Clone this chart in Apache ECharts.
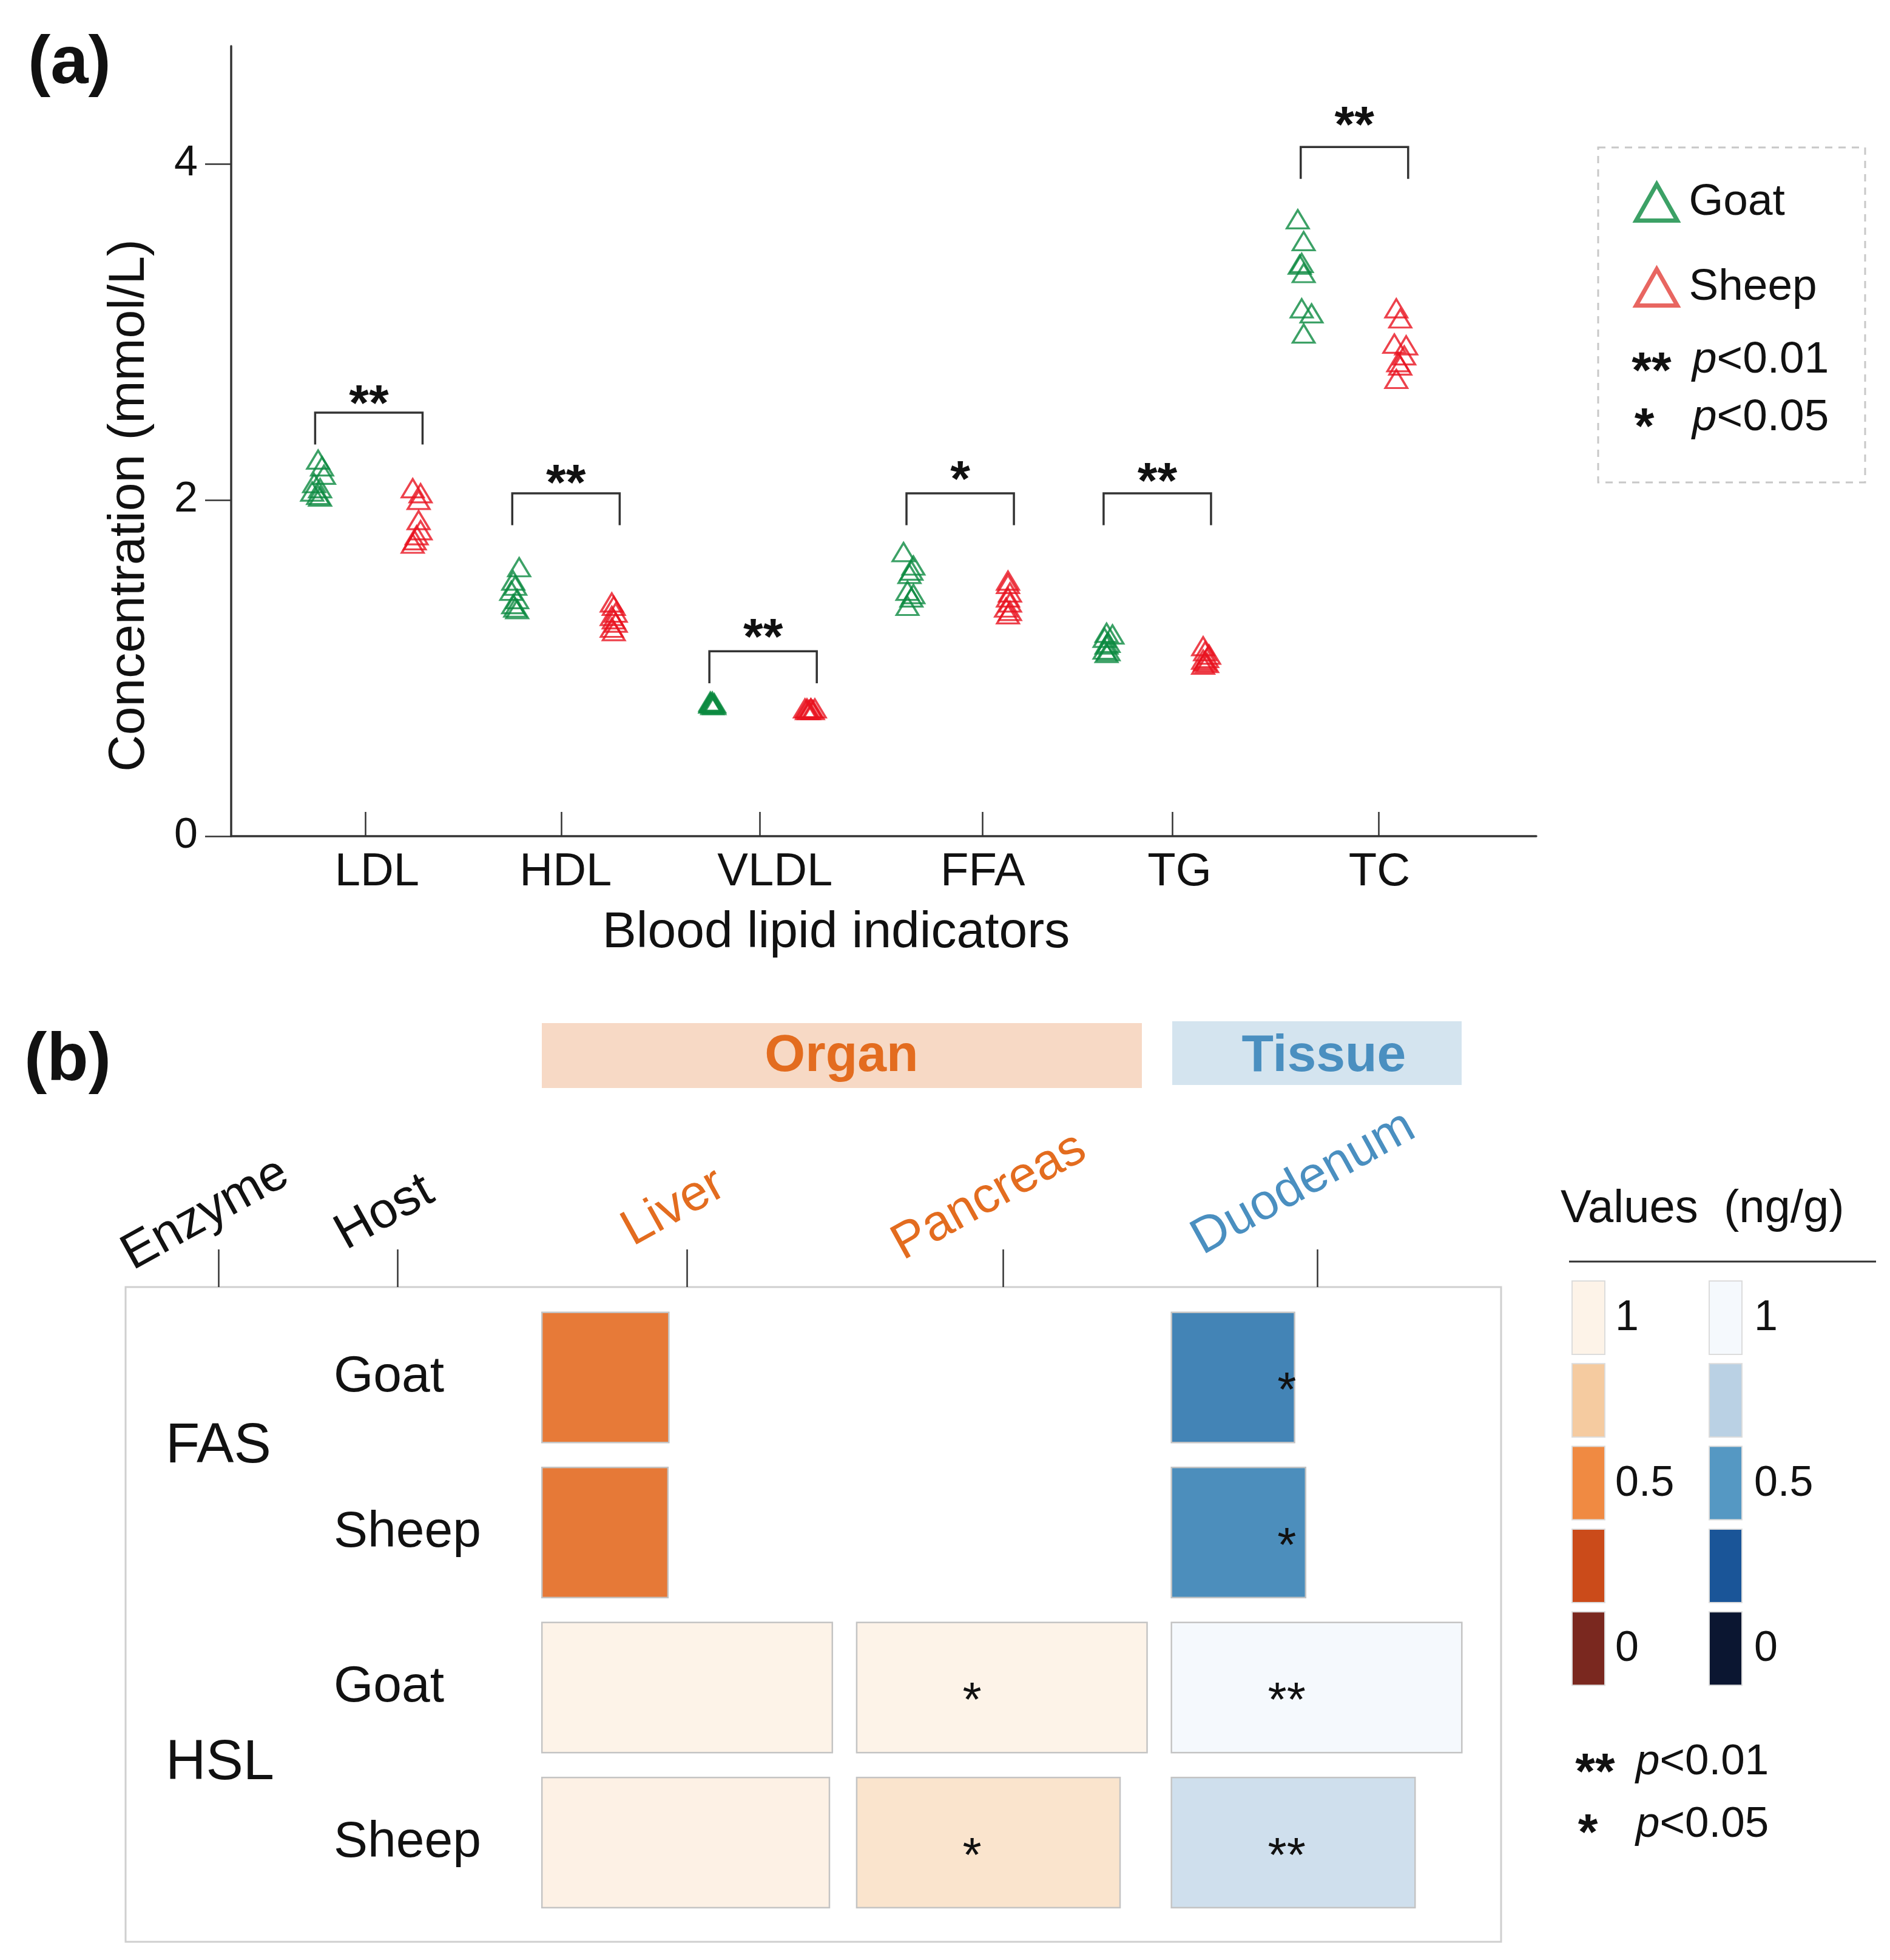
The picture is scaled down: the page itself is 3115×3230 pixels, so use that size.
<!DOCTYPE html>
<html><head><meta charset="utf-8">
<script src="https://cdn.jsdelivr.net/npm/echarts@6/dist/echarts.min.js"></script>
<style>html,body{margin:0;padding:0;background:#fff}#c{width:3115px;height:3230px}</style>
</head><body><div id="c"></div>
<script>
const FONT = '"Liberation Sans", Arial, Helvetica, sans-serif';

// ---------- Panel (a) data ----------
const categories = ['LDL', 'HDL', 'VLDL', 'FFA', 'TG', 'TC'];
const goatValues = [
  [2.24, 2.20, 2.15, 2.10, 2.07, 2.05, 2.03, 2.02],
  [1.60, 1.52, 1.49, 1.46, 1.41, 1.38, 1.36, 1.35],
  [0.80, 0.79, 0.79, 0.79, 0.78, 0.78, 0.79, 0.80],
  [1.69, 1.61, 1.58, 1.56, 1.46, 1.44, 1.42, 1.37],
  [1.21, 1.20, 1.18, 1.15, 1.14, 1.11, 1.10, 1.09],
  [3.67, 3.54, 3.41, 3.40, 3.35, 3.14, 3.11, 2.99]
];
const sheepValues = [
  [2.07, 2.04, 2.00, 1.88, 1.82, 1.79, 1.76, 1.74],
  [1.39, 1.37, 1.33, 1.31, 1.29, 1.27, 1.24, 1.22],
  [0.76, 0.76, 0.75, 0.76, 0.75, 0.76, 0.75, 0.76],
  [1.52, 1.50, 1.45, 1.42, 1.39, 1.36, 1.34, 1.32],
  [1.13, 1.10, 1.08, 1.06, 1.05, 1.04, 1.03, 1.02],
  [3.14, 3.08, 2.93, 2.92, 2.86, 2.82, 2.80, 2.72]
];
// small horizontal scatter of the points (category units)
const goatJitter = [
  [0.00, 0.02, 0.03, -0.02, 0.01, -0.03, 0.00, 0.01],
  [0.02, -0.01, 0.00, -0.02, 0.01, -0.01, 0.00, 0.01],
  [-0.01, 0.00, 0.01, -0.01, 0.00, 0.01, -0.01, 0.00],
  [-0.03, 0.02, 0.01, 0.00, -0.01, 0.02, 0.01, -0.01],
  [0.00, 0.03, -0.01, 0.01, 0.00, -0.01, 0.01, 0.00],
  [-0.03, 0.00, -0.01, -0.02, 0.00, -0.01, 0.04, 0.00]
];
const sheepJitter = [
  [-0.02, 0.02, 0.01, 0.01, 0.02, 0.00, -0.01, -0.02],
  [-0.01, 0.00, 0.01, -0.01, 0.00, 0.01, -0.01, 0.00],
  [-0.03, -0.02, -0.01, 0.00, 0.01, 0.02, -0.02, 0.00],
  [0.00, 0.00, 0.01, 0.00, 0.01, -0.01, 0.01, 0.00],
  [-0.01, 0.00, 0.02, 0.01, -0.01, 0.00, 0.01, -0.01],
  [-0.03, -0.01, -0.04, 0.02, 0.01, -0.02, -0.01, -0.03]
];
const bracketTops = [2.52, 2.04, 1.10, 2.04, 2.04, 4.10];
const sigY = [2.62, 2.15, 1.23, 2.17, 2.16, 4.28];
const sigLabels = ['**', '**', '**', '*', '**', '**'];
const yTicks = [0, 2, 4];
const pLegend = [['**', '<0.01'], ['*', '<0.05']];

// ---------- Panel (b) data ----------
const enzymes = ['FAS', 'HSL'];
const hosts = ['Goat', 'Sheep', 'Goat', 'Sheep'];
const headerLabels = ['Enzyme', 'Host', 'Liver', 'Pancreas', 'Duodenum'];
const liverValues = [0.437, 0.434, 1.00, 0.99];
const pancreasValues = [null, null, 1.00, 0.907];
const duodenumValues = [0.424, 0.462, 1.00, 0.839];
const liverSig = ['', '', '', ''];
const pancreasSig = ['', '', '*', '*'];
const duodenumSig = ['*', '*', '**', '**'];
const legendTicks = ['1', '', '0.5', '', '0'];
const groupHeaders = ['Organ', 'Tissue'];

// ---------- styles / positions ----------
const GREEN = '#0B8A40', RED = '#E8131F', RED_LEG = '#E2403A';
const ORANGE_TXT = '#E36C1F', BLUE_TXT = '#4A8FC0';
const orangeScale = ['#7A281F', '#CB4B1A', '#F08A42', '#F5CBA0', '#FDF3E8'];
const blueScale = ['#0B1631', '#1A5598', '#5598C3', '#BAD1E4', '#F5F9FD'];
const GROUP_OFF = 0.25, BR_L = -0.265, BR_R = 0.28, BR_LEG = 0.19;
const catTickPos = [-0.009, 0.984, 1.990, 3.122, 4.085, 5.130];
const catLabelPos = [0.049, 1.006, 2.068, 3.122, 4.120, 5.134];
const headerTickPos = [-1.488, -0.919, 0, 1.003, 2.002];
const headerLabelPos = [-1.530, -0.961, -0.042, 0.961, 1.960];
const headerColors = ['#111', '#111', ORANGE_TXT, ORANGE_TXT, BLUE_TXT];
const headerPad = [[0, 0, 0, 0], [0, 0, 4, 2], [0, 0, 19, 10], [0, 0, 51, 27], [0, 0, 90, 48]];
const CELL_HALF = 0.4613, CELL_H = 0.84, STAR_DX = -0.095;

function nearest(arr, v) {
  let b = 0;
  for (let i = 1; i < arr.length; i++) if (Math.abs(arr[i] - v) < Math.abs(arr[b] - v)) b = i;
  return b;
}

const goatData = [], sheepData = [];
categories.forEach((c, i) => {
  goatValues[i].forEach((v, k) => goatData.push([i - GROUP_OFF + goatJitter[i][k], v]));
  sheepValues[i].forEach((v, k) => sheepData.push([i + GROUP_OFF + sheepJitter[i][k], v]));
});
const bracketData = categories.map((c, i) => [i, bracketTops[i], sigY[i]]);

const organCells = [], tissueCells = [];
hosts.forEach((h, r) => {
  if (liverValues[r] != null) organCells.push({ v: [0, r, liverValues[r]], sig: liverSig[r] });
  if (pancreasValues[r] != null) organCells.push({ v: [1, r, pancreasValues[r]], sig: pancreasSig[r] });
  if (duodenumValues[r] != null) tissueCells.push({ v: [2, r, duodenumValues[r]], sig: duodenumSig[r] });
});

function heatRender(cells) {
  return function (params, api) {
    const col = api.value(0), row = api.value(1), v = api.value(2);
    const p0 = api.coord([col - CELL_HALF, row - CELL_H / 2]);
    const p1 = api.coord([col - CELL_HALF + v * 2 * CELL_HALF, row + CELL_H / 2]);
    const x = Math.min(p0[0], p1[0]), y = Math.min(p0[1], p1[1]);
    const children = [{
      type: 'rect',
      shape: { x: x, y: y, width: Math.abs(p1[0] - p0[0]), height: Math.abs(p1[1] - p0[1]) },
      style: { fill: api.visual('color'), stroke: '#c4c4c4', lineWidth: 2.5 }
    }];
    const sig = cells[params.dataIndex].sig;
    if (sig) {
      const c = api.coord([col + STAR_DX, row]);
      children.push({ type: 'text', x: c[0], y: c[1] + 25,
        style: { text: sig, fontSize: 80, fontFamily: FONT, fill: '#111', align: 'center', verticalAlign: 'middle' } });
    }
    return { type: 'group', children: children };
  };
}

function bracketRender(params, api) {
  const i = api.value(0), top = api.value(1), sy = api.value(2);
  const a = api.coord([i + BR_L, top - BR_LEG]);
  const b = api.coord([i + BR_L, top]);
  const c = api.coord([i + BR_R, top]);
  const d = api.coord([i + BR_R, top - BR_LEG]);
  const s = api.coord([i + (BR_L + BR_R) / 2, sy]);
  return { type: 'group', children: [
    { type: 'polyline', shape: { points: [a, b, c, d] }, style: { stroke: '#333', lineWidth: 3.5, fill: null } },
    { type: 'text', x: s[0], y: s[1] + 18,
      style: { text: sigLabels[params.dataIndex], fontSize: 84, fontWeight: 'bold', fontFamily: FONT, fill: '#111', align: 'center', verticalAlign: 'middle' } }
  ] };
}

// ---------- graphics (labels, legends) ----------
const graphics = [
  { type: 'text', x: 46, y: 106, style: { text: '(a)', fontSize: 112, fontWeight: 'bold', fontFamily: FONT, fill: '#111', align: 'left', verticalAlign: 'middle' } },
  { type: 'text', x: 40, y: 1749, style: { text: '(b)', fontSize: 112, fontWeight: 'bold', fontFamily: FONT, fill: '#111', align: 'left', verticalAlign: 'middle' } },
  { type: 'rect', shape: { x: 2634, y: 243, width: 440, height: 552 }, style: { fill: null, stroke: '#c8c8c8', lineWidth: 3, lineDash: [12, 10] } },
  // group headers
  { type: 'rect', shape: { x: 893, y: 1686, width: 989, height: 107 }, style: { fill: '#F7D9C5' } },
  { type: 'rect', shape: { x: 1932, y: 1683, width: 477, height: 105 }, style: { fill: '#D4E4EF' } },
  { type: 'text', x: 1387, y: 1741, style: { text: groupHeaders[0], fontSize: 86, fontWeight: 'bold', fontFamily: FONT, fill: ORANGE_TXT, align: 'center', verticalAlign: 'middle' } },
  { type: 'text', x: 2182, y: 1741, style: { text: groupHeaders[1], fontSize: 86, fontWeight: 'bold', fontFamily: FONT, fill: BLUE_TXT, align: 'center', verticalAlign: 'middle' } },
  // heat legend
  { type: 'text', x: 2572, y: 1993, style: { text: 'Values  (ng/g)', fontSize: 76, fontFamily: FONT, fill: '#111', align: 'left', verticalAlign: 'middle' } },
  { type: 'line', shape: { x1: 2586, y1: 2079, x2: 3092, y2: 2079 }, style: { stroke: '#333', lineWidth: 3 } }
];
pLegend.forEach((p, k) => {
  graphics.push({ type: 'text', x: 2722 - (k ? 12 : 0), y: 598 + k * 92 + 18, style: { text: p[0], fontSize: 84, fontWeight: 'bold', fontFamily: FONT, fill: '#111', align: 'center', verticalAlign: 'middle' } });
  graphics.push({ type: 'text', x: 2789, y: 594 + k * 95, style: { text: '{i|p}{n|' + p[1] + '}', fontFamily: FONT, fill: '#111', align: 'left', verticalAlign: 'middle',
    rich: { i: { fontStyle: 'italic', fontSize: 73, fontFamily: FONT }, n: { fontSize: 73, fontFamily: FONT } } } });
  graphics.push({ type: 'text', x: 2629 - (k ? 12 : 0), y: 2907 + k * 100 + 18, style: { text: p[0], fontSize: 84, fontWeight: 'bold', fontFamily: FONT, fill: '#111', align: 'center', verticalAlign: 'middle' } });
  graphics.push({ type: 'text', x: 2696, y: 2904 + k * 103, style: { text: '{i|p}{n|' + p[1] + '}', fontFamily: FONT, fill: '#111', align: 'left', verticalAlign: 'middle',
    rich: { i: { fontStyle: 'italic', fontSize: 71, fontFamily: FONT }, n: { fontSize: 71, fontFamily: FONT } } } });
});
legendTicks.forEach((t, k) => {
  const y = 2111 + k * 136.3;
  const oc = orangeScale[orangeScale.length - 1 - k], bc = blueScale[blueScale.length - 1 - k];
  graphics.push({ type: 'rect', shape: { x: 2591, y: y, width: 54, height: 121 }, style: { fill: oc, stroke: '#dcdcdc', lineWidth: 2 } });
  graphics.push({ type: 'rect', shape: { x: 2817, y: y, width: 54, height: 121 }, style: { fill: bc, stroke: '#dcdcdc', lineWidth: 2 } });
  if (t) {
    graphics.push({ type: 'text', x: 2662, y: y + 62, style: { text: t, fontSize: 70, fontFamily: FONT, fill: '#111', align: 'left', verticalAlign: 'middle' } });
    graphics.push({ type: 'text', x: 2891, y: y + 62, style: { text: t, fontSize: 70, fontFamily: FONT, fill: '#111', align: 'left', verticalAlign: 'middle' } });
  }
});

const headerRich = {};
headerColors.forEach((c, k) => { headerRich['h' + k] = { color: c, fontSize: 83, fontFamily: FONT, padding: headerPad[k] }; });

const chart = echarts.init(document.getElementById('c'), null, { renderer: 'canvas', width: 3115, height: 3230 });
chart.setOption({
  backgroundColor: '#fff',
  animation: false,
  textStyle: { fontFamily: FONT },
  grid: [
    { left: 381, top: 76, width: 2151, height: 1302 },
    { left: 207, top: 2121, width: 2267, height: 1079, show: true, borderColor: '#cfcfcf', borderWidth: 3, backgroundColor: 'rgba(0,0,0,0)' }
  ],
  legend: {
    orient: 'vertical', left: 2693, top: 297, itemWidth: 68, itemHeight: 60, itemGap: 67, padding: 0,
    textStyle: { fontSize: 73, color: '#111', fontFamily: FONT, padding: [0, 0, 0, 14] },
    data: [
      { name: 'Goat', icon: 'triangle', itemStyle: { color: '#fff', borderColor: GREEN, borderWidth: 7 } },
      { name: 'Sheep', icon: 'triangle', itemStyle: { color: '#fff', borderColor: RED_LEG, borderWidth: 7 } }
    ]
  },
  xAxis: [
    { gridIndex: 0, type: 'value', min: -0.691, max: 5.930,
      axisLine: { show: true, onZero: false, lineStyle: { color: '#333', width: 3.5 } },
      axisTick: { show: true, inside: true, length: 40, customValues: catTickPos, lineStyle: { color: '#333', width: 2.5 } },
      axisLabel: { customValues: catLabelPos, formatter: function (v) { return categories[nearest(catLabelPos, v)]; },
        fontSize: 76, color: '#111', fontFamily: FONT, margin: 22 },
      splitLine: { show: false },
      name: 'Blood lipid indicators', nameLocation: 'middle', nameGap: 118,
      nameTextStyle: { fontSize: 84, color: '#111', fontFamily: FONT, padding: [0, 157, 0, 0] } },
    { gridIndex: 1, type: 'value', position: 'top', min: -1.784, max: 2.586,
      axisLine: { show: false, onZero: false },
      axisTick: { show: true, customValues: headerTickPos, length: 62, lineStyle: { color: '#333', width: 2.5 } },
      axisLabel: { customValues: headerLabelPos, rotate: -29, align: 'center', verticalAlign: 'middle', margin: 120,
        formatter: function (v) { const k = nearest(headerLabelPos, v); return '{h' + k + '|' + headerLabels[k] + '}'; },
        rich: headerRich },
      splitLine: { show: false } }
  ],
  yAxis: [
    { gridIndex: 0, type: 'value', min: 0, max: 4.7, position: 'left',
      axisLine: { show: true, onZero: false, lineStyle: { color: '#333', width: 3.5 } },
      axisTick: { show: true, length: 43, customValues: yTicks, lineStyle: { color: '#333', width: 2.5 } },
      axisLabel: { customValues: yTicks, fontSize: 70, color: '#111', fontFamily: FONT, margin: 55 },
      splitLine: { show: false },
      name: 'Concentration (mmol/L)', nameLocation: 'middle', nameGap: 125,
      nameTextStyle: { fontSize: 84, color: '#111', fontFamily: FONT, padding: [0, 212, 0, 0] } },
    { gridIndex: 1, type: 'value', inverse: true, min: -0.583, max: 3.640, position: 'left',
      axisLine: { show: false, onZero: false }, axisTick: { show: false }, splitLine: { show: false },
      axisLabel: { inside: true, margin: 343, align: 'left', customValues: [0, 1, 2, 3],
        formatter: function (v) { return hosts[Math.round(v)]; }, fontSize: 84, color: '#111', fontFamily: FONT } },
    { gridIndex: 1, type: 'value', inverse: true, min: -0.583, max: 3.640, position: 'left',
      axisLine: { show: false, onZero: false }, axisTick: { show: false }, splitLine: { show: false },
      axisLabel: { inside: true, margin: 66, align: 'left', customValues: [0.45, 2.49],
        formatter: function (v) { return enzymes[Math.round((v - 0.5) / 2)]; }, fontSize: 92, color: '#111', fontFamily: FONT } }
  ],
  visualMap: [
    { type: 'continuous', show: false, seriesIndex: 3, dimension: 2, min: 0, max: 1, inRange: { color: orangeScale } },
    { type: 'continuous', show: false, seriesIndex: 4, dimension: 2, min: 0, max: 1, inRange: { color: blueScale } }
  ],
  series: [
    { name: 'Goat', type: 'scatter', xAxisIndex: 0, yAxisIndex: 0, symbol: 'triangle', symbolSize: [36, 30],
      itemStyle: { color: 'rgba(255,255,255,0)', borderColor: GREEN, borderWidth: 3.5 }, data: goatData, silent: true },
    { name: 'Sheep', type: 'scatter', xAxisIndex: 0, yAxisIndex: 0, symbol: 'triangle', symbolSize: [36, 30],
      itemStyle: { color: 'rgba(255,255,255,0)', borderColor: RED, borderWidth: 3.5 }, data: sheepData, silent: true },
    { type: 'custom', xAxisIndex: 0, yAxisIndex: 0, renderItem: bracketRender, data: bracketData, clip: false, silent: true },
    { type: 'custom', xAxisIndex: 1, yAxisIndex: 1, renderItem: heatRender(organCells), data: organCells.map(c => c.v), silent: true },
    { type: 'custom', xAxisIndex: 1, yAxisIndex: 1, renderItem: heatRender(tissueCells), data: tissueCells.map(c => c.v), silent: true }
  ],
  graphic: graphics
});
</script></body></html>
